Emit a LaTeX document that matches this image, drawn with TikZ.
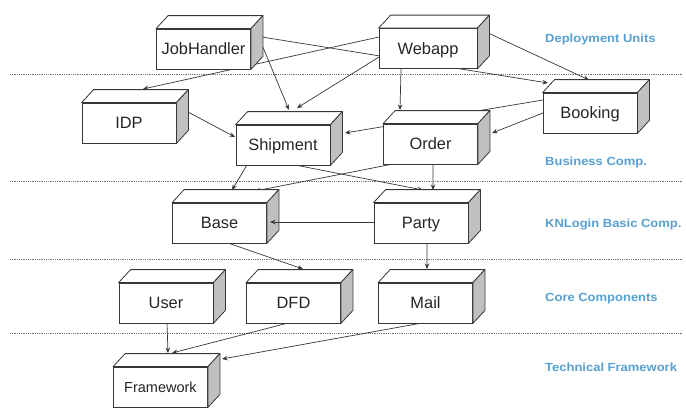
\documentclass[tikz,border=0pt]{standalone}
\usepackage{fontspec}
\setmainfont{Liberation Sans}
\newfontfamily\lblfont{Liberation Sans}[FakeStretch=1.1]
\usetikzlibrary{arrows.meta,calc}
\definecolor{lblblue}{RGB}{88,160,208}
\definecolor{sidegray}{RGB}{192,192,192}
\definecolor{edgecol}{RGB}{55,55,55}
\pgfdeclarelayer{bg}
\pgfsetlayers{bg,main}
\tikzset{
  cube/.style={draw=edgecol, line width=0.8bp, fill=white, minimum width=94bp,
    minimum height=40bp, inner sep=0pt, text height=11.8bp, text depth=0pt,
    font=\fontsize{16.4bp}{16.4bp}\selectfont, text=black!85},
  conn/.style={draw=edgecol, line width=0.7bp, -{Stealth[length=5.5bp,width=4.5bp]}},
  sepline/.style={draw=black!55, line width=1bp, dash pattern=on 0.9bp off 0.9bp},
  lbl/.style={anchor=base west, text=lblblue, inner sep=0pt,
    font=\lblfont\bfseries\fontsize{11.8bp}{12bp}\selectfont},
}
\newcommand\cubefaces[1]{%
  \filldraw[draw=edgecol, line width=0.8bp, fill=white, line join=round]
    (#1.north west) -- ++(12,-13) -- ([shift={(12,-13)}]#1.north east) -- (#1.north east) -- cycle;
  \filldraw[draw=edgecol, line width=0.8bp, fill=sidegray, line join=round]
    (#1.north east) -- ++(12,-13) -- ([shift={(12,-13)}]#1.south east) -- (#1.south east) -- cycle;}
\begin{document}
\begin{tikzpicture}[x=1bp,y=-1bp]
\begin{pgfonlayer}{bg}
\path[use as bounding box, fill=white] (0,0) rectangle (686,403);
\end{pgfonlayer}

% boxes (front faces)
\node[cube] (job) at (203.5,49) {JobHandler};
\node[cube, minimum width=98bp] (web) at (428,48.5) {Webapp};
\node[cube] (idp) at (129,123) {IDP};
\node[cube] (ship) at (283,145) {Shipment};
\node[cube] (book) at (590,113) {Booking};
\node[cube] (order) at (430.5,144) {Order};
\node[cube] (base) at (219.5,223) {Base};
\node[cube] (party) at (421,223) {Party};
\node[cube] (user) at (166,303) {User};
\node[cube] (dfd) at (293.5,303) {DFD};
\node[cube] (mail) at (425.5,303) {Mail};
\node[cube, text height=10.4bp, font=\fontsize{14.5bp}{14.5bp}\selectfont] (frame) at (160.5,387) {Framework};

\foreach \n in {job,web,idp,ship,book,order,base,party,user,dfd,mail,frame} {\cubefaces{\n}}

% layer labels
\node[lbl] (l1) at (545,42) {Deployment Units};
\node[lbl] (l2) at (545,165) {Business Comp.};
\node[lbl] (l3) at (545,227) {KNLogin Basic Comp.};
\node[lbl] (l4) at (545,301.5) {Core Components};
\node[lbl] (l5) at (545,371) {Technical Framework};

% connector ending on a side face, drawn over it
\draw[conn] ([shift={(-47,-1)}]party.center) -- ([shift={(50.5,-1)}]base.center);

\begin{pgfonlayer}{bg}
  \draw[sepline] (10,74) -- (682,74);
  \draw[sepline] (10,181) -- (682,181);
  \draw[sepline] (10,259) -- (682,259);
  \draw[sepline] (10,333) -- (682,333);

  \draw[conn] ([shift={(58.5,-4)}]job.center) -- ([shift={(6,-35)}]ship.center);
  \draw[conn] ([shift={(58.5,-12)}]job.center) -- ([shift={(-42,-30)}]book.center);
  \draw[conn] ([shift={(-49,-11.5)}]web.center) -- ([shift={(14,-34)}]idp.center);
  \draw[conn] ([shift={(-49,8.5)}]web.center) -- ([shift={(14,-37)}]ship.center);
  \draw[conn] ([shift={(-27,20.5)}]web.center) -- ([shift={(-30.5,-34)}]order.center);
  \draw[conn] ([shift={(58,-16.5)}]web.center) -- ([shift={(-1,-33)}]book.center);
  \draw[conn] ([shift={(59,-11)}]idp.center) -- ([shift={(-48,-8)}]ship.center);
  \draw[conn] ([shift={(-47,-13)}]book.center) -- ([shift={(62,-12)}]ship.center);
  \draw[conn] ([shift={(-47,0)}]book.center) -- ([shift={(61.5,-11)}]order.center);
  \draw[conn] ([shift={(-36,20)}]ship.center) -- ([shift={(12.5,-33)}]base.center);
  \draw[conn] ([shift={(-37.5,20)}]order.center) -- ([shift={(35.5,-32)}]base.center);
  \draw[conn] ([shift={(7,19)}]ship.center) -- ([shift={(2,-33)}]party.center);
  \draw[conn] ([shift={(2.5,20)}]order.center) -- ([shift={(12,-33)}]party.center);
  \draw[conn] ([shift={(8.5,20)}]base.center) -- ([shift={(9.5,-34)}]dfd.center);
  \draw[conn] ([shift={(6,20)}]party.center) -- ([shift={(1.5,-34)}]mail.center);
  \draw[conn] ([shift={(1,20)}]user.center) -- ([shift={(7.5,-34)}]frame.center);
  \draw[conn] ([shift={(-5.5,20)}]dfd.center) -- ([shift={(11.5,-34)}]frame.center);
  \draw[conn] ([shift={(-3.5,20)}]mail.center) -- ([shift={(61.5,-28)}]frame.center);
\end{pgfonlayer}
\end{tikzpicture}
\end{document}
